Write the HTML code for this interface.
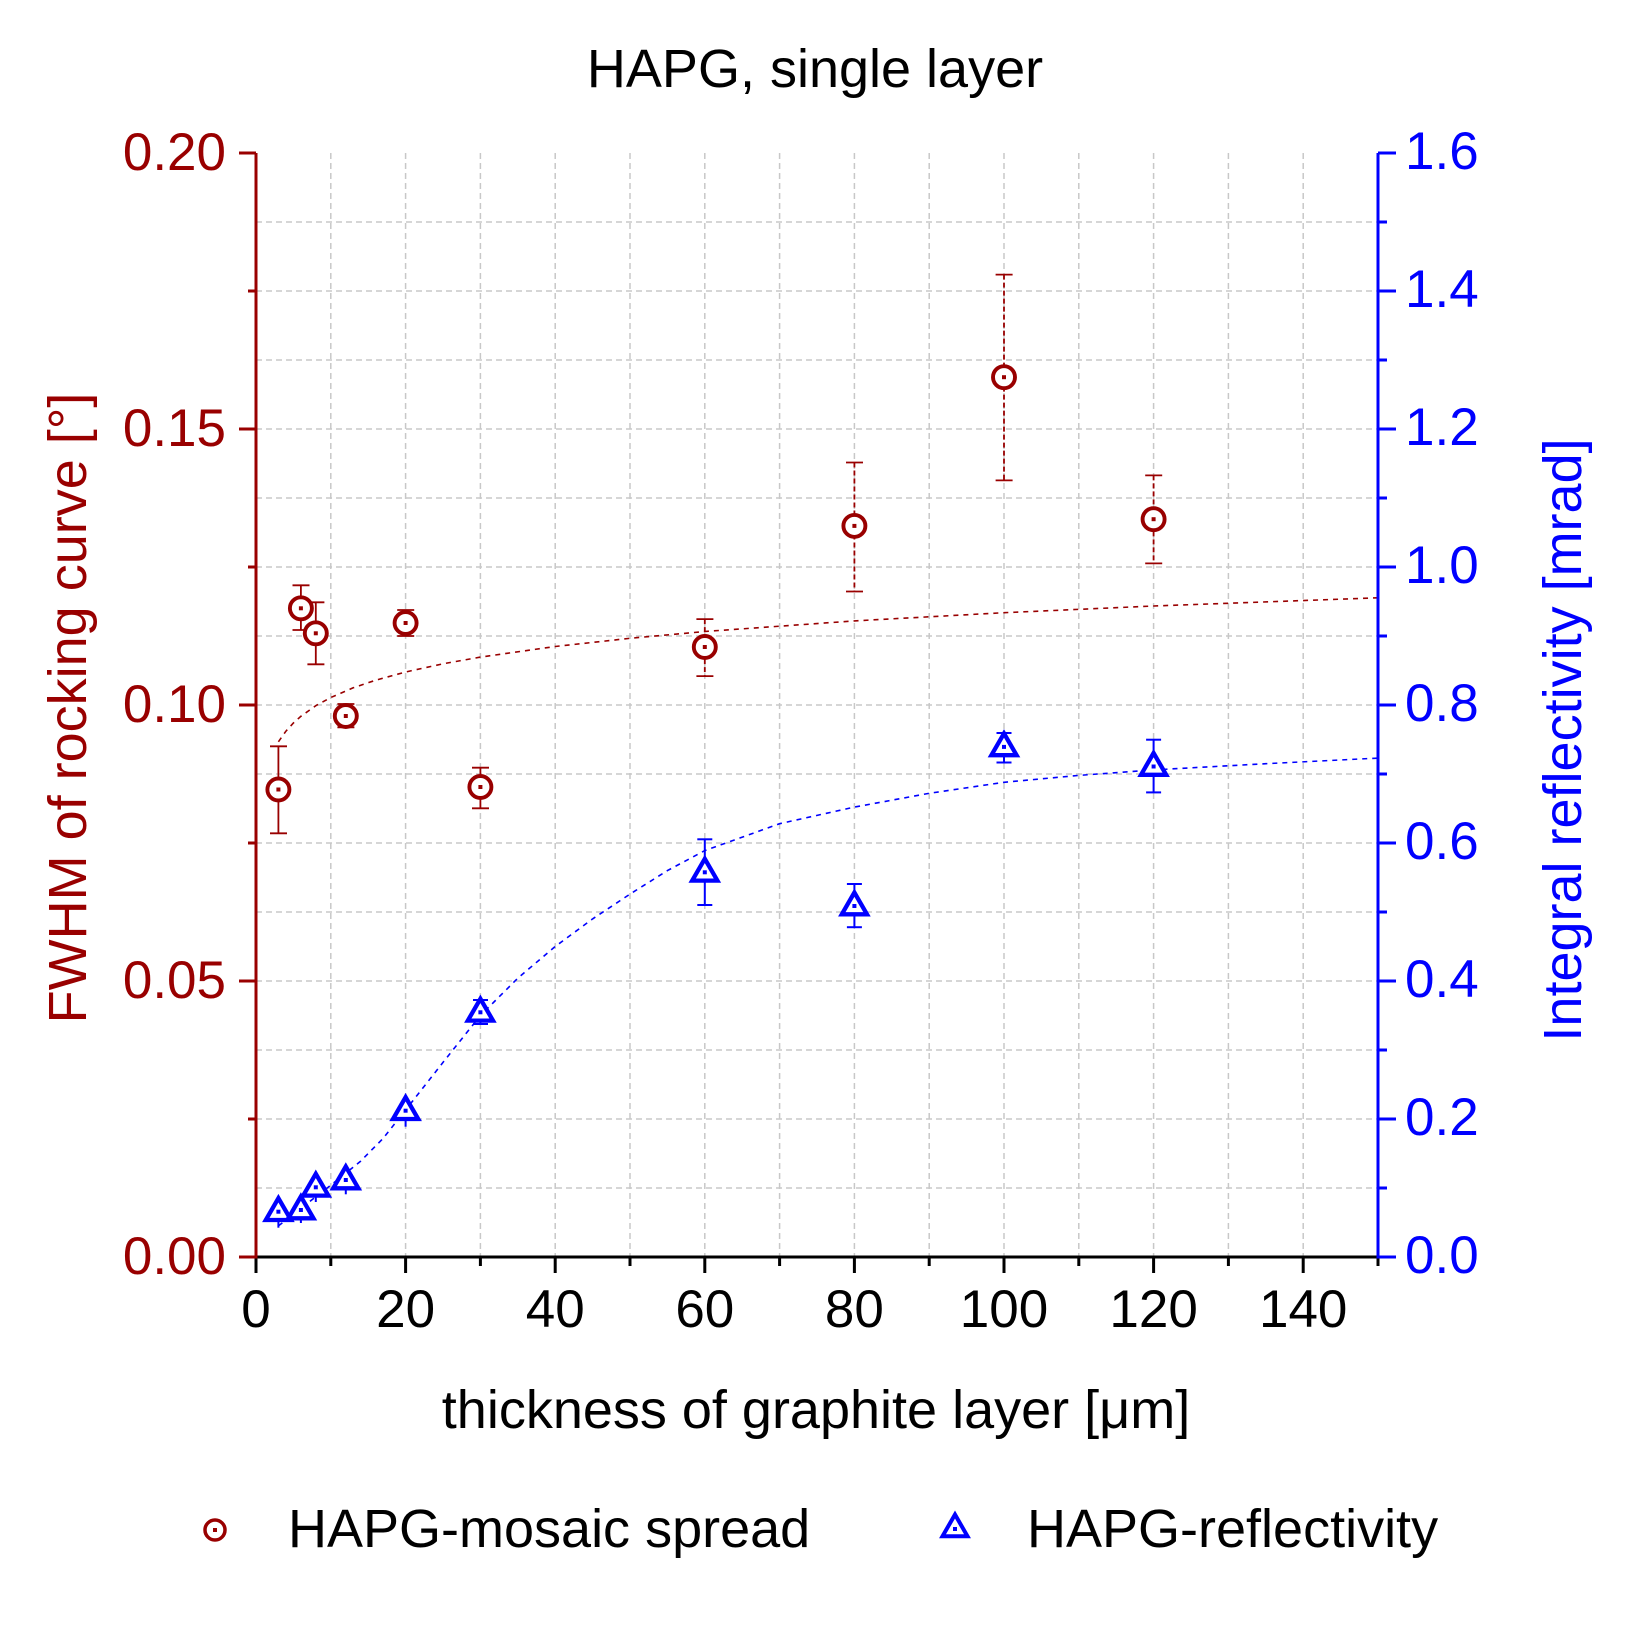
<!DOCTYPE html>
<html>
<head>
<meta charset="utf-8">
<style>
  html, body { margin: 0; padding: 0; background: #ffffff; }
  svg { display: block; }
  text { font-family: "Liberation Sans", Arial, sans-serif; }
</style>
</head>
<body>
<svg width="1625" height="1625" viewBox="0 0 1625 1625" xmlns="http://www.w3.org/2000/svg">
  <rect x="0" y="0" width="1625" height="1625" fill="#ffffff"/>

  <!-- Grid -->
  <g stroke="#c8c8c8" stroke-width="1.5" stroke-dasharray="6 4" fill="none">
    <line x1="330.8" y1="153" x2="330.8" y2="1257"/>
    <line x1="405.6" y1="153" x2="405.6" y2="1257"/>
    <line x1="480.4" y1="153" x2="480.4" y2="1257"/>
    <line x1="555.2" y1="153" x2="555.2" y2="1257"/>
    <line x1="630" y1="153" x2="630" y2="1257"/>
    <line x1="704.8" y1="153" x2="704.8" y2="1257"/>
    <line x1="779.6" y1="153" x2="779.6" y2="1257"/>
    <line x1="854.4" y1="153" x2="854.4" y2="1257"/>
    <line x1="929.2" y1="153" x2="929.2" y2="1257"/>
    <line x1="1004" y1="153" x2="1004" y2="1257"/>
    <line x1="1078.8" y1="153" x2="1078.8" y2="1257"/>
    <line x1="1153.6" y1="153" x2="1153.6" y2="1257"/>
    <line x1="1228.4" y1="153" x2="1228.4" y2="1257"/>
    <line x1="1303.2" y1="153" x2="1303.2" y2="1257"/>

    <line x1="256" y1="1188" x2="1378" y2="1188"/>
    <line x1="256" y1="1119" x2="1378" y2="1119"/>
    <line x1="256" y1="1050" x2="1378" y2="1050"/>
    <line x1="256" y1="981" x2="1378" y2="981"/>
    <line x1="256" y1="912" x2="1378" y2="912"/>
    <line x1="256" y1="843" x2="1378" y2="843"/>
    <line x1="256" y1="774" x2="1378" y2="774"/>
    <line x1="256" y1="705" x2="1378" y2="705"/>
    <line x1="256" y1="636" x2="1378" y2="636"/>
    <line x1="256" y1="567" x2="1378" y2="567"/>
    <line x1="256" y1="498" x2="1378" y2="498"/>
    <line x1="256" y1="429" x2="1378" y2="429"/>
    <line x1="256" y1="360" x2="1378" y2="360"/>
    <line x1="256" y1="291" x2="1378" y2="291"/>
    <line x1="256" y1="222" x2="1378" y2="222"/>
  </g>

  <!-- Fit curves -->
  <polyline fill="none" stroke="#990000" stroke-width="1.6" stroke-dasharray="5 5"
    points="278.4,741.8 285.9,731.2 293.4,723.0 300.9,716.3 315.8,705.7 330.8,697.5 353.2,687.8 375.7,680.2 405.6,672.0 443,663.8 480.4,657.1 555.2,646.5 630,638.3 704.8,631.5 854.4,620.9 1004,612.7 1153.6,606.0 1378,597.8"/>
  <polyline fill="none" stroke="#0000ff" stroke-width="1.6" stroke-dasharray="5 5"
    points="278.4,1225.9 293.4,1214.2 308.4,1202.5 330.8,1185.2 360.7,1161.1 383.2,1138.3 405.6,1110.0 443,1062.4 480.4,1015.5 517.8,978.2 555.2,946.5 592.6,918.9 630,894.1 667.4,870.6 704.8,850.6 779.6,823.7 854.4,807.1 929.2,793.3 1004,782.3 1078.8,775.4 1153.6,769.9 1265.8,763.7 1378,758.1"/>

  <!-- Red error bars -->
  <g stroke="#990000" stroke-width="1.8" fill="none">
    <line x1="278.4" y1="746.3" x2="278.4" y2="833.3"/>
    <line x1="270" y1="746.3" x2="287" y2="746.3"/><line x1="270" y1="833.3" x2="287" y2="833.3"/>
    <line x1="300.9" y1="585.3" x2="300.9" y2="630"/>
    <line x1="292.5" y1="585.3" x2="309.5" y2="585.3"/><line x1="292.5" y1="630" x2="309.5" y2="630"/>
    <line x1="315.8" y1="602.3" x2="315.8" y2="664.3"/>
    <line x1="307.4" y1="602.3" x2="324.4" y2="602.3"/><line x1="307.4" y1="664.3" x2="324.4" y2="664.3"/>
    <line x1="337.4" y1="704" x2="354.4" y2="704"/><line x1="337.4" y1="727.3" x2="354.4" y2="727.3"/>
    <line x1="397.2" y1="610" x2="414.2" y2="610"/><line x1="397.2" y1="636" x2="414.2" y2="636"/>
    <line x1="480.4" y1="767.7" x2="480.4" y2="808.3"/>
    <line x1="472" y1="767.7" x2="489" y2="767.7"/><line x1="472" y1="808.3" x2="489" y2="808.3"/>
    <line x1="696.4" y1="619.1" x2="713.4" y2="619.1"/><line x1="696.4" y1="676.1" x2="713.4" y2="676.1"/>
    <line x1="846" y1="462.5" x2="863" y2="462.5"/><line x1="846" y1="591.5" x2="863" y2="591.5"/>
    <line x1="995.6" y1="274.6" x2="1012.6" y2="274.6"/><line x1="995.6" y1="480.4" x2="1012.6" y2="480.4"/>
    <line x1="1145.2" y1="475.4" x2="1162.2" y2="475.4"/><line x1="1145.2" y1="563.4" x2="1162.2" y2="563.4"/>
  </g>
  <g stroke="#990000" stroke-width="1.8" fill="none" stroke-dasharray="5 3">
    <line x1="704.8" y1="619.1" x2="704.8" y2="676.1"/>
    <line x1="854.4" y1="462.5" x2="854.4" y2="591.5"/>
    <line x1="1004" y1="274.6" x2="1004" y2="480.4"/>
    <line x1="1153.6" y1="475.4" x2="1153.6" y2="563.4"/>
  </g>

  <!-- Blue error bars -->
  <g stroke="#0000ff" stroke-width="2" fill="none">
    <line x1="278.4" y1="1205.7" x2="278.4" y2="1227.7"/>
    <line x1="300.9" y1="1200.7" x2="300.9" y2="1223"/>
    <line x1="315.8" y1="1178.3" x2="315.8" y2="1202"/>
    <line x1="345.8" y1="1169" x2="345.8" y2="1194.3"/>
    <line x1="405.6" y1="1098" x2="405.6" y2="1126.7"/>
    <line x1="480.4" y1="1000" x2="480.4" y2="1024"/>
    <line x1="473" y1="1000" x2="488" y2="1000"/><line x1="473" y1="1024" x2="488" y2="1024"/>
    <line x1="704.8" y1="839.3" x2="704.8" y2="905"/>
    <line x1="697.3" y1="839.3" x2="712.3" y2="839.3"/><line x1="697.3" y1="905" x2="712.3" y2="905"/>
    <line x1="854.4" y1="884" x2="854.4" y2="927.2"/>
    <line x1="846.9" y1="884" x2="861.9" y2="884"/><line x1="846.9" y1="927.2" x2="861.9" y2="927.2"/>
    <line x1="1004" y1="733" x2="1004" y2="762.5"/>
    <line x1="996.5" y1="733" x2="1011.5" y2="733"/><line x1="996.5" y1="762.5" x2="1011.5" y2="762.5"/>
    <line x1="1153.6" y1="739.7" x2="1153.6" y2="792.4"/>
    <line x1="1146.1" y1="739.7" x2="1161.1" y2="739.7"/><line x1="1146.1" y1="792.4" x2="1161.1" y2="792.4"/>
  </g>

  <!-- Red circle markers -->
  <g stroke="#990000" stroke-width="3.9" fill="#ffffff">
    <circle cx="278.4" cy="789.5" r="11"/>
    <circle cx="300.9" cy="608.3" r="11"/>
    <circle cx="315.8" cy="633.3" r="11"/>
    <circle cx="345.8" cy="716" r="11"/>
    <circle cx="405.6" cy="623" r="11"/>
    <circle cx="480.4" cy="787" r="11"/>
    <circle cx="704.8" cy="647" r="11"/>
    <circle cx="854.4" cy="525.9" r="11"/>
    <circle cx="1004" cy="377.2" r="11"/>
    <circle cx="1153.6" cy="519.2" r="11"/>
  </g>
  <g fill="#990000">
    <rect x="276.4" y="787.5" width="4" height="4"/>
    <rect x="298.9" y="606.3" width="4" height="4"/>
    <rect x="313.8" y="631.3" width="4" height="4"/>
    <rect x="343.8" y="714" width="4" height="4"/>
    <rect x="403.6" y="621" width="4" height="4"/>
    <rect x="478.4" y="785" width="4" height="4"/>
    <rect x="702.8" y="645" width="4" height="4"/>
    <rect x="852.4" y="523.9" width="4" height="4"/>
    <rect x="1002" y="375.2" width="4" height="4"/>
    <rect x="1151.6" y="517.2" width="4" height="4"/>
  </g>

  <!-- Blue triangle markers -->
  <g stroke="#0000ff" stroke-width="4.3" fill="#ffffff" stroke-linejoin="miter">
    <polygon points="278.4,1198.2 265.8,1220 291,1220"/>
    <polygon points="300.9,1196.5 288.3,1218.3 313.5,1218.3"/>
    <polygon points="315.8,1173.8 303.2,1195.6 328.4,1195.6"/>
    <polygon points="345.8,1166.5 333.2,1188.3 358.4,1188.3"/>
    <polygon points="405.6,1097.2 393,1119 418.2,1119"/>
    <polygon points="480.4,998.8 467.8,1020.6 493,1020.6"/>
    <polygon points="704.8,858.8 692.2,880.6 717.4,880.6"/>
    <polygon points="854.4,892.5 841.8,914.3 867,914.3"/>
    <polygon points="1004,733.4 991.4,755.2 1016.6,755.2"/>
    <polygon points="1153.6,753 1141,774.8 1166.2,774.8"/>
  </g>
  <g fill="#0000ff">
    <rect x="276.4" y="1209.7" width="4" height="4"/>
    <rect x="298.9" y="1208" width="4" height="4"/>
    <rect x="313.8" y="1185.3" width="4" height="4"/>
    <rect x="343.8" y="1178" width="4" height="4"/>
    <rect x="403.6" y="1108.7" width="4" height="4"/>
    <rect x="478.4" y="1010.3" width="4" height="4"/>
    <rect x="702.8" y="870.3" width="4" height="4"/>
    <rect x="852.4" y="904" width="4" height="4"/>
    <rect x="1002" y="744.9" width="4" height="4"/>
    <rect x="1151.6" y="764.5" width="4" height="4"/>
  </g>

  <!-- X axis -->
  <g stroke="#000000" stroke-width="3" fill="none">
    <line x1="256" y1="1257" x2="1378" y2="1257"/>
    <line x1="256" y1="1257" x2="256" y2="1273"/>
    <line x1="405.6" y1="1257" x2="405.6" y2="1273"/>
    <line x1="555.2" y1="1257" x2="555.2" y2="1273"/>
    <line x1="704.8" y1="1257" x2="704.8" y2="1273"/>
    <line x1="854.4" y1="1257" x2="854.4" y2="1273"/>
    <line x1="1004" y1="1257" x2="1004" y2="1273"/>
    <line x1="1153.6" y1="1257" x2="1153.6" y2="1273"/>
    <line x1="1303.2" y1="1257" x2="1303.2" y2="1273"/>
    <line x1="330.8" y1="1257" x2="330.8" y2="1266"/>
    <line x1="480.4" y1="1257" x2="480.4" y2="1266"/>
    <line x1="630" y1="1257" x2="630" y2="1266"/>
    <line x1="779.6" y1="1257" x2="779.6" y2="1266"/>
    <line x1="929.2" y1="1257" x2="929.2" y2="1266"/>
    <line x1="1078.8" y1="1257" x2="1078.8" y2="1266"/>
    <line x1="1228.4" y1="1257" x2="1228.4" y2="1266"/>
    <line x1="1378" y1="1257" x2="1378" y2="1266"/>
  </g>

  <!-- Left axis (red) -->
  <g stroke="#990000" stroke-width="3" fill="none">
    <line x1="256" y1="153" x2="256" y2="1258.5"/>
    <line x1="239" y1="1257" x2="256" y2="1257"/>
    <line x1="239" y1="981" x2="256" y2="981"/>
    <line x1="239" y1="705" x2="256" y2="705"/>
    <line x1="239" y1="429" x2="256" y2="429"/>
    <line x1="239" y1="153" x2="256" y2="153"/>
    <line x1="248" y1="1119" x2="256" y2="1119"/>
    <line x1="248" y1="843" x2="256" y2="843"/>
    <line x1="248" y1="567" x2="256" y2="567"/>
    <line x1="248" y1="291" x2="256" y2="291"/>
  </g>

  <!-- Right axis (blue) -->
  <g stroke="#0000ff" stroke-width="3" fill="none">
    <line x1="1378" y1="153" x2="1378" y2="1258.5"/>
    <line x1="1378" y1="1257" x2="1396" y2="1257"/>
    <line x1="1378" y1="1119" x2="1396" y2="1119"/>
    <line x1="1378" y1="981" x2="1396" y2="981"/>
    <line x1="1378" y1="843" x2="1396" y2="843"/>
    <line x1="1378" y1="705" x2="1396" y2="705"/>
    <line x1="1378" y1="567" x2="1396" y2="567"/>
    <line x1="1378" y1="429" x2="1396" y2="429"/>
    <line x1="1378" y1="291" x2="1396" y2="291"/>
    <line x1="1378" y1="153" x2="1396" y2="153"/>
    <line x1="1378" y1="1188" x2="1387" y2="1188"/>
    <line x1="1378" y1="1050" x2="1387" y2="1050"/>
    <line x1="1378" y1="912" x2="1387" y2="912"/>
    <line x1="1378" y1="774" x2="1387" y2="774"/>
    <line x1="1378" y1="636" x2="1387" y2="636"/>
    <line x1="1378" y1="498" x2="1387" y2="498"/>
    <line x1="1378" y1="360" x2="1387" y2="360"/>
    <line x1="1378" y1="222" x2="1387" y2="222"/>
  </g>

  <!-- Title -->
  <text x="815" y="87" font-size="54" text-anchor="middle" fill="#000000">HAPG, single layer</text>

  <!-- X tick labels -->
  <g font-size="53" fill="#000000" text-anchor="middle">
    <text x="256" y="1327">0</text>
    <text x="405.6" y="1327">20</text>
    <text x="555.2" y="1327">40</text>
    <text x="704.8" y="1327">60</text>
    <text x="854.4" y="1327">80</text>
    <text x="1004" y="1327">100</text>
    <text x="1153.6" y="1327">120</text>
    <text x="1303.2" y="1327">140</text>
  </g>

  <!-- Left tick labels -->
  <g font-size="53" fill="#990000" text-anchor="end">
    <text x="226" y="1274">0.00</text>
    <text x="226" y="998">0.05</text>
    <text x="226" y="722">0.10</text>
    <text x="226" y="446">0.15</text>
    <text x="226" y="170">0.20</text>
  </g>

  <!-- Right tick labels -->
  <g font-size="53" fill="#0000ff" text-anchor="start">
    <text x="1405" y="1273">0.0</text>
    <text x="1405" y="1135">0.2</text>
    <text x="1405" y="997">0.4</text>
    <text x="1405" y="859">0.6</text>
    <text x="1405" y="721">0.8</text>
    <text x="1405" y="583">1.0</text>
    <text x="1405" y="445">1.2</text>
    <text x="1405" y="307">1.4</text>
    <text x="1405" y="169">1.6</text>
  </g>

  <!-- Axis titles -->
  <text x="816" y="1428" font-size="54" text-anchor="middle" fill="#000000">thickness of graphite layer [μm]</text>
  <text transform="translate(86,708) rotate(-90)" font-size="54" text-anchor="middle" fill="#990000">FWHM of rocking curve [°]</text>
  <text transform="translate(1581,740) rotate(-90)" font-size="54" text-anchor="middle" fill="#0000ff">Integral reflectivity [mrad]</text>

  <!-- Legend -->
  <circle cx="215" cy="1530" r="10" stroke="#990000" stroke-width="3.5" fill="#ffffff"/>
  <rect x="213" y="1528" width="4" height="4" fill="#990000"/>
  <text x="288" y="1547" font-size="54" fill="#000000">HAPG-mosaic spread</text>

  <polygon points="955,1514.5 942.5,1536.3 967.5,1536.3" stroke="#0000ff" stroke-width="4" fill="#ffffff"/>
  <rect x="953" y="1527" width="4" height="4" fill="#0000ff"/>
  <text x="1027" y="1547" font-size="54" fill="#000000">HAPG-reflectivity</text>
</svg>
</body>
</html>
